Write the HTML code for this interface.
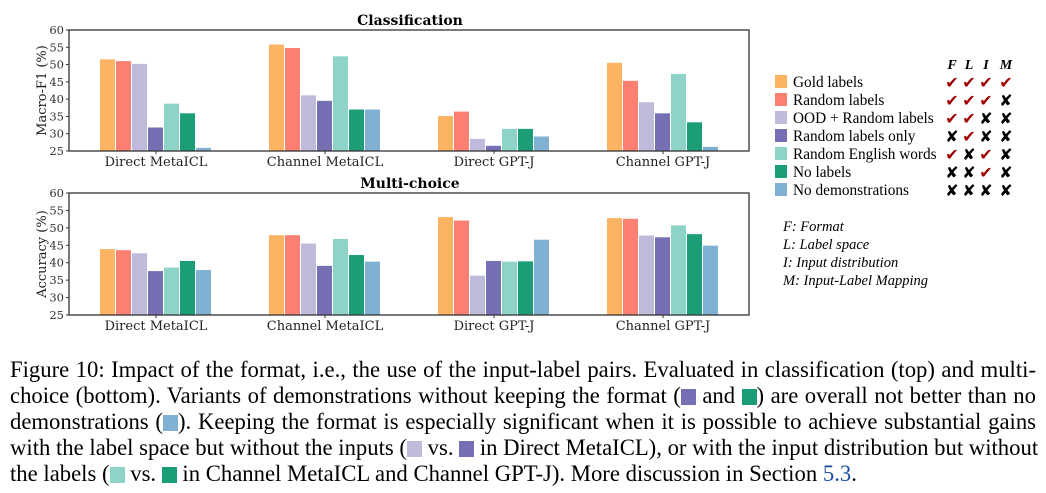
<!DOCTYPE html>
<html><head><meta charset="utf-8"><style>
body{margin:0;width:1046px;height:493px;background:#fff;overflow:hidden;position:relative;font-family:"Liberation Serif",serif}
svg{position:absolute;left:0;top:0}
.cap{position:absolute;left:10px;width:1026px;font-size:22.7px;line-height:26px;white-space:nowrap}
.cap div{text-align:justify;text-align-last:justify;height:26px}
.cap div.last{text-align-last:left}
.sq{display:inline-block;width:15px;height:16px;vertical-align:-2px}
</style></head><body>
<svg width="1046" height="493" xmlns="http://www.w3.org/2000/svg" font-family="DejaVu Serif, serif">
<g id="charts"></g>
</svg>
<div class="cap" style="top:357px">
<div>Figure 10: Impact of the format, i.e., the use of the input-label pairs. Evaluated in classification (top) and multi-</div>
<div>choice (bottom). Variants of demonstrations without keeping the format (<span class="sq" style="background:#7570b3"></span> and <span class="sq" style="background:#1b9e77"></span>) are overall not better than no</div>
<div>demonstrations (<span class="sq" style="background:#80b1d3"></span>). Keeping the format is especially significant when it is possible to achieve substantial gains</div>
<div>with the label space but without the inputs (<span class="sq" style="background:#bebada"></span> vs. <span class="sq" style="background:#7570b3"></span> in Direct MetaICL), or with the input distribution but without</div>
<div class="last">the labels (<span class="sq" style="background:#8dd3c7"></span> vs. <span class="sq" style="background:#1b9e77"></span> in Channel MetaICL and Channel GPT-J). More discussion in Section <span style="color:#1a4fa0">5.3</span>.</div>
</div>
<script>
(function(){
const cols=["#fdb462","#fb8072","#bebada","#7570b3","#8dd3c7","#1b9e77","#80b1d3"];
const dTop=[[51.5,51,50.2,31.8,38.7,35.9,25.9],[55.8,54.8,41.1,39.5,52.4,37,37],[35.1,36.4,28.5,26.5,31.4,31.4,29.2],[50.5,45.3,39.1,35.9,47.3,33.3,26.2]];
const dBot=[[43.9,43.6,42.7,37.6,38.6,40.5,37.9],[47.9,47.9,45.5,39.1,46.8,42.2,40.3],[53.1,52.1,36.3,40.5,40.3,40.4,46.6],[52.8,52.6,47.8,47.3,50.7,48.2,44.9]];
const names=["Direct MetaICL","Channel MetaICL","Direct GPT-J","Channel GPT-J"];
let s="";
function chart(y0,y1,data,title,ylab){
 const k=(y1-y0)/35;
 s+=`<text x="410" y="${y0-5}" font-size="14" font-weight="bold" text-anchor="middle">${title}</text>`;
 for(let g=0;g<4;g++){for(let i=0;i<7;i++){const v=data[g][i];const x=100+g*169+i*16;const y=y1-(v-25)*k;
  s+=`<rect x="${x}" y="${y}" width="15" height="${y1-y}" fill="${cols[i]}"/>`;}
  s+=`<text x="${156+g*169}" y="${y1+15}" font-size="13" text-anchor="middle" fill="#222">${names[g]}</text>`;
  s+=`<line x1="${156+g*169}" x2="${156+g*169}" y1="${y1}" y2="${y1+3}" stroke="#333"/>`;}
 for(let t=25;t<=60;t+=5){const y=y1-(t-25)*k;s+=`<text x="64" y="${y+4}" font-size="11.5" text-anchor="end" fill="#333">${t}</text><line x1="66" x2="69" y1="${y}" y2="${y}" stroke="#333"/>`;}
 s+=`<rect x="69" y="${y0}" width="680" height="${y1-y0}" fill="none" stroke="#333" stroke-width="1.3"/>`;
 s+=`<text transform="translate(46,${(y0+y1)/2}) rotate(-90)" font-size="13" text-anchor="middle" fill="#222">${ylab}</text>`;
}
chart(30,151,dTop,"Classification","Macro-F1 (%)");
chart(193,315,dBot,"Multi-choice","Accuracy (%)");
const labs=["Gold labels","Random labels","OOD + Random labels","Random labels only","Random English words","No labels","No demonstrations"];
const marks=["1111","1110","1100","0100","1010","0010","0000"];
const cx=[952,969,986,1006];
["F","L","I","M"].forEach((c,i)=>s+=`<text x="${cx[i]}" y="69" font-family="Liberation Serif,serif" font-style="italic" font-weight="bold" font-size="14" text-anchor="middle">${c}</text>`);
labs.forEach((l,r)=>{const y=82+r*18;
 s+=`<rect x="775" y="${y-7}" width="12" height="13" fill="${cols[r]}"/>`;
 s+=`<text x="793" y="${y+5}" font-family="Liberation Serif,serif" font-size="15.3">${l}</text>`;
 for(let i=0;i<4;i++){const ok=marks[r][i]=="1";s+=`<text x="${cx[i]}" y="${y+6}" font-family="DejaVu Sans,sans-serif" font-size="16" font-weight="bold" text-anchor="middle" fill="${ok?'#a00000':'#000'}">${ok?'✔':'✘'}</text>`;}
});
["F: Format","L: Label space","I: Input distribution","M: Input-Label Mapping"].forEach((t,i)=>s+=`<text x="783" y="${231+i*18}" font-family="Liberation Serif,serif" font-style="italic" font-size="14.5">${t}</text>`);
document.getElementById("charts").innerHTML=s;
})();
</script>
</body></html>
